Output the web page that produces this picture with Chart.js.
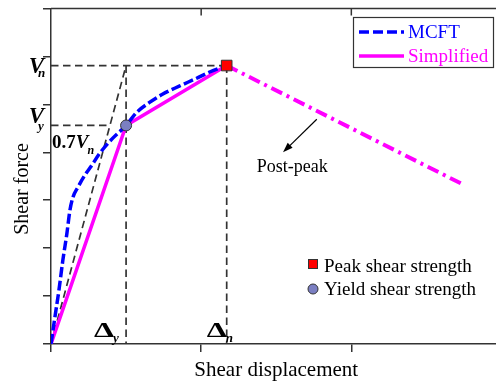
<!DOCTYPE html>
<html>
<head>
<meta charset="utf-8">
<script src="https://cdn.jsdelivr.net/npm/chart.js@4/dist/chart.umd.min.js"></script>
<style>
  html, body { margin: 0; padding: 0; overflow: hidden; background: #fff; }
  canvas { display: block; }
</style>
</head>
<body>
<canvas id="c" width="510" height="383"></canvas>
<script>
// Shear force – shear displacement response: MCFT curve and simplified envelope

// MCFT response curve
const mcftDisp  = [0, 0.026, 0.053, 0.079, 0.106, 0.126, 0.146, 0.179, 0.225, 0.272, 0.325, 0.41, 0.5, 0.57, 0.656, 0.742, 0.854, 0.967, 1.053, 1.17];
const mcftForce = [0, 0.56, 1.125, 1.75, 2.31, 2.79, 3.06, 3.27, 3.52, 3.73, 3.98, 4.29, 4.56, 4.83, 5.04, 5.21, 5.38, 5.54, 5.67, 5.81];

// Simplified envelope (origin -> yield -> peak) and post-peak branch
const simpDisp  = [0, 0.5, 1.17];
const simpForce = [0, 4.56, 5.81];
const postDisp  = [1.17, 2.73];
const postForce = [5.81, 3.35];

// Characteristic points
const yieldPoint = [0.5, 4.56];   // (Δy, Vy)
const peakPoint  = [1.17, 5.81];  // (Δn, Vn)

// Axis ranges (no tick labels are shown)
const dispRange  = [0, 3];
const forceRange = [0, 7];

const [dY, Vy] = yieldPoint;
const [dN, Vn] = peakPoint;

const pts = (xs, ys) => xs.map((x, i) => ({ x, y: ys[i] }));

// Construction lines: secant stiffness line and projections of Vn, Vy, Δy, Δn
const secantAtVy = dY * Vy / Vn;
const guides = [
  [[0, Vn], [dN, Vn]],
  [[0, Vy], [secantAtVy, Vy]],
  [[0, 0], [dY, Vn]],
  [[dY, Vn], [dY, 0]],
  [[dN, Vn], [dN, 0]]
];

const SERIF = '"Liberation Serif", "Times New Roman", serif';

const guideSets = guides.map(seg => ({
  data: seg.map(([x, y]) => ({ x, y })),
  showLine: true, borderColor: '#333', borderWidth: 1.7,
  borderDash: [7.5, 4.5], pointRadius: 0, fill: false, order: 6
}));

const annotations = {
  id: 'annotations',
  afterDraw(chart) {
    const { ctx, chartArea: a, scales: { x, y } } = chart;
    ctx.save();

    // top frame with inward ticks
    ctx.strokeStyle = '#333';
    ctx.lineWidth = 1.5;
    ctx.beginPath();
    ctx.moveTo(a.left, a.top);
    ctx.lineTo(a.right, a.top);
    x.ticks.forEach(t => {
      if (t.value === dispRange[0]) return;
      const px = x.getPixelForValue(t.value);
      ctx.moveTo(px, a.top);
      ctx.lineTo(px, a.top + 7);
    });
    ctx.stroke();

    ctx.fillStyle = '#000';
    ctx.textBaseline = 'alphabetic';

    // axis titles
    ctx.font = '21px ' + SERIF;
    ctx.textAlign = 'center';
    ctx.fillText('Shear displacement', (a.left + a.right) / 2, 376);
    ctx.save();
    ctx.translate(28, 189);
    ctx.rotate(-Math.PI / 2);
    ctx.font = '20px ' + SERIF;
    ctx.fillText('Shear force', 0, 0);
    ctx.restore();

    // V labels on the force axis
    const yVn = y.getPixelForValue(Vn);
    const yVy = y.getPixelForValue(Vy);
    ctx.textAlign = 'right';
    ctx.font = 'italic bold 23px ' + SERIF;
    ctx.fillText('V', a.left - 7, yVn + 7);
    ctx.fillText('V', a.left - 7, yVy - 2);
    ctx.textAlign = 'left';
    ctx.font = 'italic bold 13px ' + SERIF;
    ctx.fillText('n', a.left - 13, yVn + 11);
    ctx.fillText('y', a.left - 13, yVy + 5);

    // 0.7Vn label
    let cx = a.left + 1;
    const by = yVy + 23;
    ctx.font = 'bold 19px ' + SERIF;
    ctx.fillText('0.7', cx, by);
    cx += ctx.measureText('0.7').width;
    ctx.font = 'italic bold 19px ' + SERIF;
    ctx.fillText('V', cx, by);
    cx += ctx.measureText('V').width;
    ctx.font = 'italic bold 12px ' + SERIF;
    ctx.fillText('n', cx - 1, by + 6);

    // Δ labels on the displacement axis
    const drawDelta = (left, sub) => {
      ctx.save();
      ctx.font = 'bold 22px ' + SERIF;
      const w = ctx.measureText('\u0394').width;
      ctx.translate(left, a.bottom - 7);
      ctx.scale(20 / w, 1);
      ctx.fillText('\u0394', 0, 0);
      ctx.restore();
      ctx.font = 'italic bold 13px ' + SERIF;
      ctx.fillText(sub, left + 19, a.bottom - 2);
    };
    drawDelta(x.getPixelForValue(dY) - 32, 'y');
    drawDelta(x.getPixelForValue(dN) - 20, 'n');

    // post-peak arrow and note
    const ax0 = x.getPixelForValue(1.77), ay0 = y.getPixelForValue(4.69);
    const ax1 = x.getPixelForValue(1.545), ay1 = y.getPixelForValue(4.0);
    const ang = Math.atan2(ay1 - ay0, ax1 - ax0);
    ctx.strokeStyle = '#000';
    ctx.lineWidth = 1.2;
    ctx.beginPath();
    ctx.moveTo(ax0, ay0);
    ctx.lineTo(ax1 - 6 * Math.cos(ang), ay1 - 6 * Math.sin(ang));
    ctx.stroke();
    ctx.beginPath();
    ctx.moveTo(ax1, ay1);
    ctx.lineTo(ax1 - 10 * Math.cos(ang) + 3.5 * Math.sin(ang), ay1 - 10 * Math.sin(ang) - 3.5 * Math.cos(ang));
    ctx.lineTo(ax1 - 10 * Math.cos(ang) - 3.5 * Math.sin(ang), ay1 - 10 * Math.sin(ang) + 3.5 * Math.cos(ang));
    ctx.closePath();
    ctx.fill();
    ctx.font = '18px ' + SERIF;
    ctx.fillText('Post-peak', x.getPixelForValue(1.37), y.getPixelForValue(3.58));

    // line legend
    ctx.strokeStyle = '#333';
    ctx.lineWidth = 1.2;
    ctx.strokeRect(353.5, 17.5, 140, 50);
    ctx.lineWidth = 3.5;
    ctx.strokeStyle = '#0000ff';
    ctx.setLineDash([10, 4]);
    ctx.beginPath(); ctx.moveTo(359, 32); ctx.lineTo(404, 32); ctx.stroke();
    ctx.setLineDash([]);
    ctx.strokeStyle = '#ff00ff';
    ctx.beginPath(); ctx.moveTo(359, 56); ctx.lineTo(404, 56); ctx.stroke();
    ctx.font = '19px ' + SERIF;
    ctx.fillStyle = '#0000ff';
    ctx.fillText('MCFT', 408, 38);
    ctx.fillStyle = '#ff00ff';
    ctx.fillText('Simplified', 408, 62);

    // marker legend
    ctx.lineWidth = 1;
    ctx.strokeStyle = '#333';
    ctx.fillStyle = '#ff0000';
    ctx.fillRect(308, 259, 10, 10);
    ctx.strokeRect(308.5, 259.5, 9, 9);
    ctx.fillStyle = '#7b7fc2';
    ctx.beginPath(); ctx.arc(313, 289, 5, 0, Math.PI * 2); ctx.fill(); ctx.stroke();
    ctx.fillStyle = '#000';
    ctx.font = '19px ' + SERIF;
    ctx.fillText('Peak shear strength', 324, 272);
    ctx.fillText('Yield shear strength', 324, 295);

    ctx.restore();
  }
};

new Chart(document.getElementById('c'), {
  type: 'scatter',
  data: {
    datasets: [
      {
        label: 'Peak shear strength',
        data: [{ x: peakPoint[0], y: peakPoint[1] }],
        pointStyle: 'rect', pointRadius: 7.5,
        backgroundColor: '#ff0000', borderColor: '#333', borderWidth: 1, order: 0
      },
      {
        label: 'Yield shear strength',
        data: [{ x: yieldPoint[0], y: yieldPoint[1] }],
        pointStyle: 'circle', pointRadius: 5.5,
        backgroundColor: '#7b7fc2', borderColor: '#333', borderWidth: 1, order: 0
      },
      {
        label: 'MCFT',
        data: pts(mcftDisp, mcftForce),
        showLine: true, borderColor: '#0000ff', borderWidth: 3.5,
        borderDash: [10, 3.5], cubicInterpolationMode: 'monotone',
        pointRadius: 0, fill: false, order: 2
      },
      {
        label: 'Simplified',
        data: pts(simpDisp, simpForce),
        showLine: true, borderColor: '#ff00ff', borderWidth: 3.5,
        pointRadius: 0, fill: false, order: 3
      },
      {
        label: 'Post-peak',
        data: pts(postDisp, postForce),
        showLine: true, borderColor: '#ff00ff', borderWidth: 4,
        borderDash: [12, 5, 3, 5], pointRadius: 0, fill: false, order: 3
      },
      ...guideSets
    ]
  },
  options: {
    responsive: false,
    animation: false,
    devicePixelRatio: 1,
    events: [],
    layout: { padding: { top: 7, right: 6, left: 0, bottom: 0 } },
    plugins: { legend: { display: false }, tooltip: { enabled: false } },
    scales: {
      x: {
        type: 'linear', min: dispRange[0], max: dispRange[1],
        ticks: { display: false, stepSize: 1 },
        grid: { drawOnChartArea: false, tickLength: 8, color: '#333', lineWidth: 1.5 },
        border: { color: '#333', width: 1.5 },
        afterFit(s) { s.height = 39; }
      },
      y: {
        type: 'linear', min: forceRange[0], max: forceRange[1],
        ticks: { display: false, stepSize: 1 },
        grid: { drawOnChartArea: false, tickLength: 8, color: '#333', lineWidth: 1.5 },
        border: { color: '#333', width: 1.5 },
        afterFit(s) { s.width = 51; }
      }
    }
  },
  plugins: [annotations]
});
</script>
</body>
</html>
